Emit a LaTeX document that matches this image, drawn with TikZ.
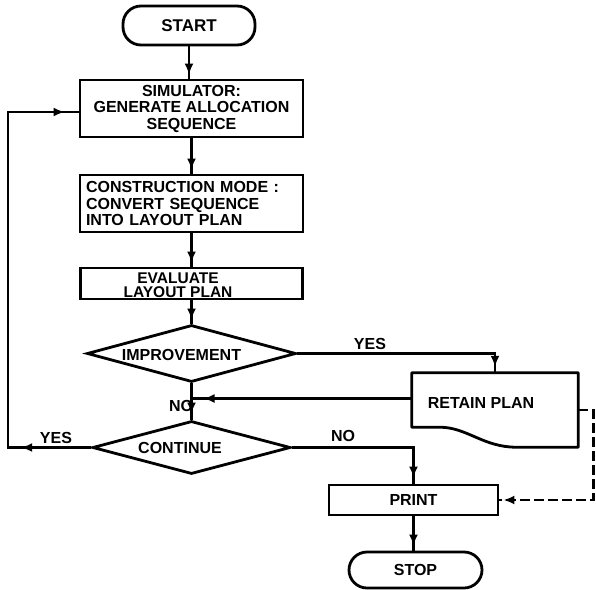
\documentclass[tikz,border=0pt]{standalone}
\usepackage{fontspec}
\setmainfont{Liberation Sans}
\usetikzlibrary{shapes.geometric,decorations.markings,arrows.meta,calc}
\tikzset{
  lbl/.style={font=\bfseries\fontsize{16}{16.5}\selectfont, inner sep=0pt},
  box/.style={lbl, draw, line width=2.8pt, rectangle},
  term/.style={lbl, draw, line width=2.8pt, rectangle, rounded corners=18pt},
  dec/.style={lbl, draw, diamond, line width=2.8pt, inner sep=0pt},
  headtip/.tip={Latex[length=11pt,width=9pt]},
  flow/.style={line width=2.8pt, postaction={decorate},
    decoration={markings, mark=at position #1 with {\arrow{headtip}}}},
  flow/.default={-4pt},
  flowd/.style={line width=2.8pt, dash pattern=on 10pt off 4pt, postaction={decorate},
    decoration={markings, mark=at position -4pt with {\arrow{headtip}}}},
}
\begin{document}
\begin{tikzpicture}[x=1pt,y=-1pt]
\useasboundingbox (0,0) rectangle (596,589);
% nodes
\node[term, minimum width=132pt, minimum height=39pt, font=\bfseries\fontsize{17}{17}\selectfont] (start) at (189,25.5) {START};
\node[box, minimum width=223pt, minimum height=57pt, align=center] (sim) at (191.5,108.5) {SIMULATOR:\\GENERATE ALLOCATION\\SEQUENCE};
\node[box, minimum width=223pt, minimum height=57pt, align=left, text width=211pt] (con) at (191.5,203.5) {CONSTRUCTION MODE :\\CONVERT SEQUENCE\\INTO LAYOUT PLAN};
\node[box, minimum width=222pt, minimum height=31pt] (eval) at (191.5,283.5) {};
\node[lbl, align=center, font=\bfseries\fontsize{15.5}{14}\selectfont] (evaltxt) at (178,285.5) {EVALUATE\\LAYOUT PLAN};
\node[dec, minimum width=209pt, minimum height=57pt] (imp) at (191.5,353.5) {};
\node[lbl] (imptxt) at (181.5,355) {IMPROVEMENT};
\node[dec, minimum width=198pt, minimum height=53pt] (cont) at (191.5,447.5) {};
\node[lbl] (conttxt) at (180,447.5) {CONTINUE};
\node[lbl, minimum width=166pt, minimum height=74pt] (ret) at (495,410) {};
\draw[line width=2.8pt, line join=round] (ret.north west) -- (ret.north east) -- (ret.south east)
  -- ($(ret.south east)+(-62,0)$)
  .. controls ($(ret.south east)+(-95,0)$) and ($(ret.south west)+(55,-20)$) .. ($(ret.south west)+(28,-20)$)
  -- ($(ret.south west)+(0,-20)$) -- cycle;
\node[lbl] (rettxt) at (481,403) {RETAIN PLAN};
\node[box, minimum width=169pt, minimum height=30pt] (print) at (413.5,500) {PRINT};
\node[term, minimum width=133pt, minimum height=36pt] (stop) at (415.5,570) {STOP};
% labels
\node[lbl] (yes1) at (370,344) {YES};
\node[lbl] (no1) at (181,406) {NO};
\node[lbl] (yes2) at (56,438) {YES};
\node[lbl] (no2) at (343,436) {NO};
% coordinates
\coordinate (nojoin) at (191.5,398.5);
\coordinate (lc) at (8,447.5);
\coordinate (tc) at (8,112);
\coordinate (simin) at (sim.west |- tc);
% connectors
\draw[flow] (start.south) -- (start.south |- sim.north);
\draw[flow] (sim) -- (con);
\draw[flow] (con) -- (eval);
\draw[flow] (eval) -- (imp);
\draw[flow=-6pt] (imp) -- (cont);
\draw[flow=-6pt] (imp.east) -| (ret.north);
\draw[flow=-12pt] ($(ret.west)+(0,-11.5)$) -- (nojoin);
\draw[flow=-6pt] (cont.east) -| (print.north);
\draw[flow=-5pt] (print.south) -- (print.south |- stop.north);
\draw[flowd] (ret.east) -- ++(15,0) |- (print.east);
\draw[line width=2.8pt, line join=miter, postaction={decorate},
  decoration={markings, mark=at position 70pt with {\arrow{headtip}}, mark=at position -14pt with {\arrow{headtip}}}]
  (cont.west) -- (lc) -- (tc) -- (simin);
\end{tikzpicture}
\end{document}
